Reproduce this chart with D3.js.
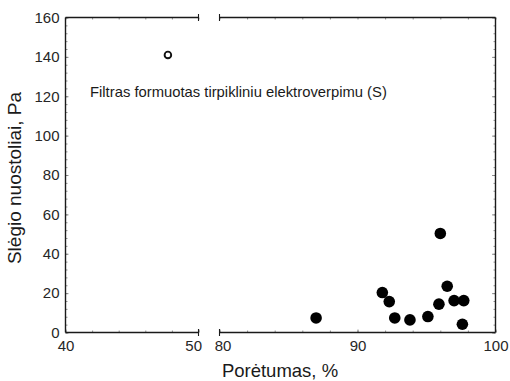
<!DOCTYPE html>
<html>
<head>
<meta charset="utf-8">
<script src="https://cdn.jsdelivr.net/npm/d3@7"></script>
<style>
  body { margin: 0; background: #fff; }
  svg { display: block; font-family: "Liberation Sans", Arial, sans-serif; }
  .tick text { fill: #262626; }
</style>
</head>
<body>
<div id="chart"></div>
<script>
// Open marker: left panel (40–50 %)
const openPorosity = [47.7];
const openPressure = [141];

// Filled markers: right panel (80–100 %)
const porosity = [87.0, 91.8, 92.3, 92.7, 93.8, 95.1, 95.9, 96.0, 96.5, 97.0, 97.7, 97.6];
const pressure = [7.4, 20.3, 15.7, 7.4, 6.4, 8.1, 14.4, 50.3, 23.5, 16.2, 16.2, 4.2];

const yTicks = [0, 20, 40, 60, 80, 100, 120, 140, 160];
const leftTicks = [40, 50];
const rightTicks = [90, 100];
const breakTicks = [80];

const annotation = "Filtras formuotas tirpikliniu elektroverpimu (S)";
const yTitle = "Slėgio nuostoliai, Pa";
const xTitle = "Porėtumas, %";

const width = 510;
const height = 381;

const svg = d3.select("#chart")
  .append("svg")
  .attr("width", width)
  .attr("height", height);

const plotTop = 17.5, plotBottom = 332.5;
const yScale = d3.scaleLinear().domain([0, 160]).range([plotBottom, plotTop]);
const xLeft = d3.scaleLinear().domain([40, 50]).range([65.5, 198.5]);
const xRight = d3.scaleLinear().domain([80, 100]).range([219.5, 495.5]);

const ink = "#1a1a1a";

// minor ticks (inside)
function minor(axis, sel) {
  sel.call(axis.tickFormat("").tickSizeOuter(0));
  sel.select(".domain").remove();
  sel.selectAll(".tick line").attr("stroke", "#777").attr("stroke-width", 0.8);
}

minor(d3.axisBottom(xLeft).tickValues(d3.range(40, 50.1, 2)).tickSize(-2),
  svg.append("g").attr("transform", `translate(0,${plotBottom})`));
minor(d3.axisBottom(xRight).tickValues(d3.range(80, 100.1, 2)).tickSize(-2),
  svg.append("g").attr("transform", `translate(0,${plotBottom})`));
minor(d3.axisTop(xLeft).tickValues(d3.range(40, 50.1, 2)).tickSize(-2),
  svg.append("g").attr("transform", `translate(0,${plotTop})`));
minor(d3.axisTop(xRight).tickValues(d3.range(80, 100.1, 2)).tickSize(-2),
  svg.append("g").attr("transform", `translate(0,${plotTop})`));
minor(d3.axisLeft(yScale).tickValues(d3.range(0, 160.1, 4)).tickSize(-2),
  svg.append("g").attr("transform", `translate(${xLeft(40)},0)`));
minor(d3.axisRight(yScale).tickValues(d3.range(0, 160.1, 4)).tickSize(-2),
  svg.append("g").attr("transform", `translate(${xRight(100)},0)`));
minor(d3.axisRight(yScale).tickValues(yTicks).tickSize(-3.5),
  svg.append("g").attr("transform", `translate(${xRight(100)},0)`));

// labelled axes
const fontSize = 15;
const yAxis = svg.append("g")
  .attr("transform", `translate(${xLeft(40)},0)`)
  .call(d3.axisLeft(yScale).tickValues(yTicks).tickSize(-3).tickPadding(6));

const xAxisL = svg.append("g")
  .attr("transform", `translate(0,${plotBottom})`)
  .call(d3.axisBottom(xLeft).tickValues(leftTicks).tickSize(-3).tickPadding(8));

const xAxisR = svg.append("g")
  .attr("transform", `translate(0,${plotBottom})`)
  .call(d3.axisBottom(xRight).tickValues(breakTicks.concat(rightTicks)).tickSize(-3).tickPadding(8));

[yAxis, xAxisL, xAxisR].forEach(g => {
  g.select(".domain").remove();
  g.selectAll(".tick line").attr("stroke", "#777").attr("stroke-width", 0.8);
  g.selectAll(".tick text").attr("font-size", fontSize).attr("font-family", "Liberation Sans, Arial, sans-serif");
});
xAxisL.selectAll(".tick text").attr("text-anchor", (d) => d === 50 ? "end" : "middle").attr("dx", (d) => d === 50 ? "0.2em" : 0);
xAxisR.selectAll(".tick text").attr("text-anchor", (d) => d === 80 ? "start" : "middle").attr("dx", (d) => d === 80 ? "-0.35em" : 0);

// frame with broken x axis
const frame = svg.append("g").attr("stroke", ink).attr("stroke-width", 1.4).attr("fill", "none");
frame.append("line").attr("x1", xLeft(40)).attr("x2", xLeft(40)).attr("y1", plotTop).attr("y2", plotBottom);
frame.append("line").attr("x1", xRight(100)).attr("x2", xRight(100)).attr("y1", plotTop).attr("y2", plotBottom);
[plotTop, plotBottom].forEach(y => {
  frame.append("line").attr("x1", xLeft(40)).attr("x2", xLeft(50)).attr("y1", y).attr("y2", y);
  frame.append("line").attr("x1", xRight(80)).attr("x2", xRight(100)).attr("y1", y).attr("y2", y);
  [xLeft(50), xRight(80)].forEach(x => {
    frame.append("line").attr("x1", x).attr("x2", x).attr("y1", y - 3.5).attr("y2", y + 3.5)
      .attr("stroke-width", 1.1);
  });
});

// markers
svg.append("g")
  .selectAll("circle")
  .data(openPorosity.map((x, i) => ({ x, y: openPressure[i] })))
  .join("circle")
  .attr("cx", (d) => xLeft(d.x))
  .attr("cy", (d) => yScale(d.y))
  .attr("r", 3.3)
  .attr("fill", "#fff")
  .attr("stroke", "#111")
  .attr("stroke-width", 1.9);

svg.append("g")
  .selectAll("circle")
  .data(porosity.map((x, i) => ({ x, y: pressure[i] })))
  .join("circle")
  .attr("cx", (d) => xRight(d.x))
  .attr("cy", (d) => yScale(d.y))
  .attr("r", 5.8)
  .attr("fill", "#000");

// annotation
svg.append("text")
  .attr("x", 90)
  .attr("y", 97)
  .attr("font-size", 14.8)
  .attr("fill", "#1a1a1a")
  .text(annotation);

// titles
svg.append("text")
  .attr("transform", `translate(21,${(plotTop + plotBottom) / 2 + 3}) rotate(-90)`)
  .attr("text-anchor", "middle")
  .attr("font-size", 19)
  .attr("fill", "#1a1a1a")
  .text(yTitle);

svg.append("text")
  .attr("x", 280)
  .attr("y", 377)
  .attr("text-anchor", "middle")
  .attr("font-size", 18.5)
  .attr("fill", "#1a1a1a")
  .text(xTitle);
</script>
</body>
</html>
